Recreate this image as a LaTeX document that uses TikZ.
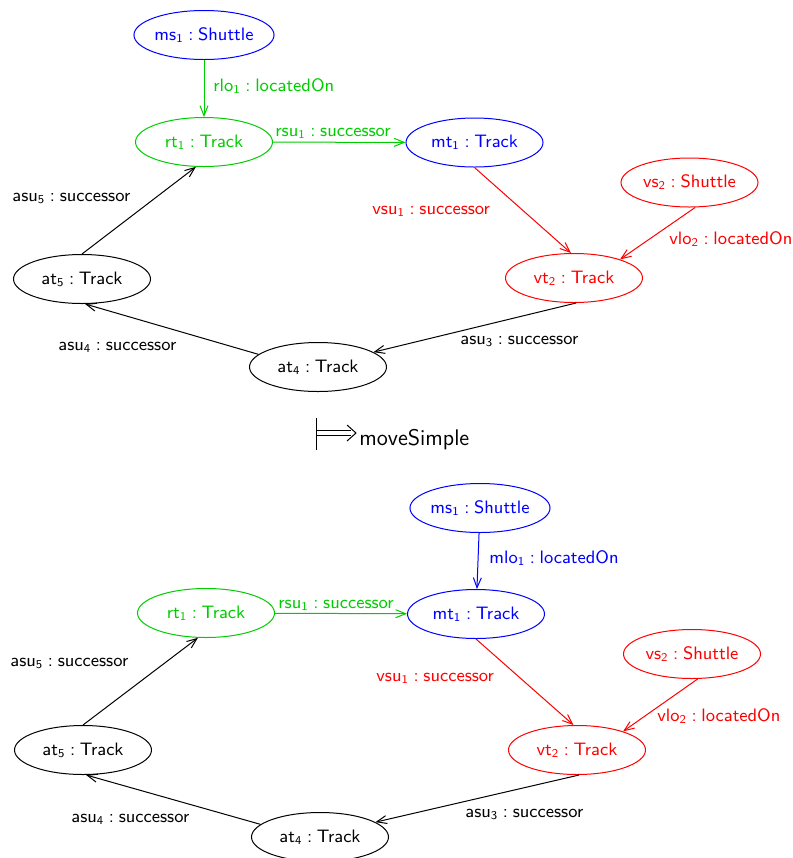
\documentclass[tikz,border=0pt]{standalone}
\usetikzlibrary{shapes.geometric,arrows.meta}
\definecolor{grn}{RGB}{0,204,0}
% colon between a name and its type
\newcommand{\tcol}{\hspace{0.26em}:\hspace{0.26em}}
\begin{document}
\begin{tikzpicture}[x=0.5pt,y=-0.5pt,
  font=\sffamily\fontsize{9}{11}\selectfont,
  obj/.style={ellipse,draw,line width=0.5pt,minimum width=68.5pt,minimum height=24.5pt,inner sep=0pt},
  lbl/.style={anchor=west,inner sep=0pt},
  rel/.style={-{Straight Barb[length=5pt,width=4pt]},line width=0.5pt}]
\useasboundingbox (0,0) rectangle (793,858);

% ---------- left-hand side ----------
\node[obj,blue]  (tms)  at (204,35)    {ms\textsubscript{1}\tcol Shuttle};
\node[obj,grn]   (trt)  at (204,142)   {rt\textsubscript{1}\tcol Track};
\node[obj,blue]  (tmt)  at (474.5,142.5) {mt\textsubscript{1}\tcol Track};
\node[obj,red]   (tvs)  at (689.5,182.5) {vs\textsubscript{2}\tcol Shuttle};
\node[obj,red]   (tvt)  at (574,278)   {vt\textsubscript{2}\tcol Track};
\node[obj]       (tat5) at (82,279)    {at\textsubscript{5}\tcol Track};
\node[obj]       (tat4) at (318,367)   {at\textsubscript{4}\tcol Track};

\draw[rel,grn]  (tms) -- (trt);
\draw[rel,grn]  (trt) -- (tmt);
\draw[rel,red]  (tmt.south) -- (tvt.97);
\draw[rel,red]  (tvs.283) -- (tvt.22);
\draw[rel]      (tvt.275) -- (tat4.15);
\draw[rel]      (tat4.168) -- (tat5.277);
\draw[rel]      (tat5.north) -- (trt.252);

\node[lbl,grn]  (trlo) at (213,86)  {rlo\textsubscript{1}\tcol locatedOn};
\node[lbl,grn]  (trsu) at (275,133) {rsu\textsubscript{1}\tcol successor};
\node[lbl,red]  (tvsu) at (372,211) {vsu\textsubscript{1}\tcol successor};
\node[lbl,red]  (tvlo) at (669,239) {vlo\textsubscript{2}\tcol locatedOn};
\node[lbl]      (tas3) at (460,341) {asu\textsubscript{3}\tcol successor};
\node[lbl]      (tas4) at (58,347)  {asu\textsubscript{4}\tcol successor};
\node[lbl]      (tas5) at (12,198)  {asu\textsubscript{5}\tcol successor};

% ---------- rule application: bar with a double arrow ----------
\node[lbl,font=\sffamily\fontsize{11.3}{13}\selectfont] (mv) at (359,440) {moveSimple};
\begin{scope}[line width=0.5pt]
  \draw (316,418) -- (316,450);
  \draw (316,430.5) -- (351,430.5);
  \draw (316,435.5) -- (351,435.5);
  \draw[line join=miter] (347,425) -- (356,433) -- (347,441);
\end{scope}

% ---------- right-hand side ----------
\node[obj,blue]  (bms)  at (480,508)   {ms\textsubscript{1}\tcol Shuttle};
\node[obj,grn]   (brt)  at (206,613)   {rt\textsubscript{1}\tcol Track};
\node[obj,blue]  (bmt)  at (476,614)   {mt\textsubscript{1}\tcol Track};
\node[obj,red]   (bvs)  at (692,654)   {vs\textsubscript{2}\tcol Shuttle};
\node[obj,red]   (bvt)  at (577,750)   {vt\textsubscript{2}\tcol Track};
\node[obj]       (bat5) at (83,750)    {at\textsubscript{5}\tcol Track};
\node[obj]       (bat4) at (320,837)   {at\textsubscript{4}\tcol Track};

\draw[rel,blue] (bms) -- (bmt);
\draw[rel,grn]  (brt) -- (bmt);
\draw[rel,red]  (bmt.south) -- (bvt.98);
\draw[rel,red]  (bvs.283) -- (bvt.22);
\draw[rel]      (bvt.275) -- (bat4.15);
\draw[rel]      (bat4.168) -- (bat5.277);
\draw[rel]      (bat5.north) -- (brt.252);

\node[lbl,blue] (bmlo) at (489,558) {mlo\textsubscript{1}\tcol locatedOn};
\node[lbl,grn]  (brsu) at (278,605) {rsu\textsubscript{1}\tcol successor};
\node[lbl,red]  (bvsu) at (376,678) {vsu\textsubscript{1}\tcol successor};
\node[lbl,red]  (bvlo) at (657,716) {vlo\textsubscript{2}\tcol locatedOn};
\node[lbl]      (bas3) at (465,814) {asu\textsubscript{3}\tcol successor};
\node[lbl]      (bas4) at (71,819)  {asu\textsubscript{4}\tcol successor};
\node[lbl]      (bas5) at (10,663)  {asu\textsubscript{5}\tcol successor};
\end{tikzpicture}
\end{document}
